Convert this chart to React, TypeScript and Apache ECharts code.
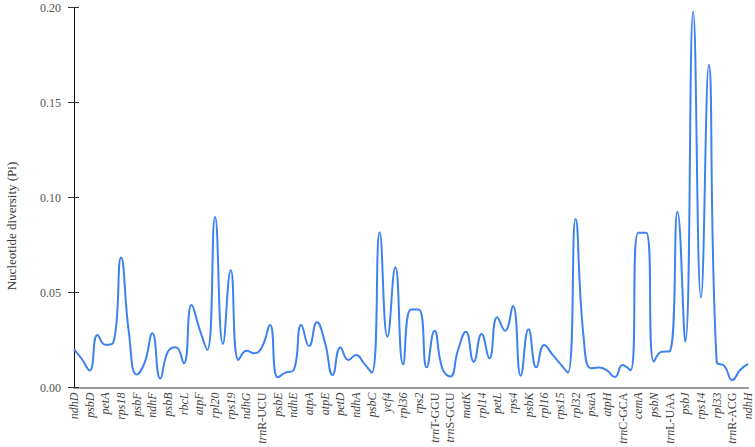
import React, { useEffect, useRef } from "react";
import * as echarts from "echarts";

// Gene names shown on the x axis (every second sampled region carries a label)
const geneLabels: string[] = [
  "ndhD", "psbD", "petA", "rps18", "psbF", "ndhF", "psbB", "rbcL", "atpF", "rpl20",
  "rps19", "ndhG", "trnR-UCU", "psbE", "ndhE", "atpA", "atpE", "petD", "ndhA", "psbC",
  "ycf4", "rpl36", "rps2", "trnT-GGU", "trnS-GCU", "matK", "rpl14", "petL", "rps4", "psbK",
  "rpl16", "rps15", "rpl32", "psaA", "atpH", "trnC-GCA", "cemA", "psbN", "trnL-UAA", "psbJ",
  "rps14", "rpl33", "trnR-ACG", "ndhH",
];

// Nucleotide diversity (Pi) per region
const piValues: number[] = [
  0.0201, 0.0150, 0.0090, 0.0276, 0.0225, 0.0235, 0.0684, 0.0290, 0.0068, 0.0130,
  0.0285, 0.0048, 0.0190, 0.0212, 0.0127, 0.0434, 0.0310, 0.0197, 0.0898, 0.0229,
  0.0617, 0.0145, 0.0194, 0.0180, 0.0215, 0.0329, 0.0054, 0.0078, 0.0090, 0.0329,
  0.0218, 0.0343, 0.0240, 0.0066, 0.0211, 0.0145, 0.0171, 0.0127, 0.0078, 0.0817,
  0.0267, 0.0633, 0.0122, 0.0410, 0.0410, 0.0106, 0.0299, 0.0100, 0.0058, 0.0197,
  0.0294, 0.0136, 0.0282, 0.0154, 0.0370, 0.0299, 0.0429, 0.0062, 0.0307, 0.0106,
  0.0224, 0.0176, 0.0127, 0.0078, 0.0887, 0.0276, 0.0101, 0.0105, 0.0090, 0.0055,
  0.0118, 0.0090, 0.0815, 0.0815, 0.0136, 0.0188, 0.0190, 0.0925, 0.0241, 0.1978,
  0.0473, 0.1697, 0.0136, 0.0113, 0.0039, 0.0092, 0.0124,
];

const yTicks: number[] = [0, 0.05, 0.1, 0.15, 0.2];

// categories: labelled regions interleaved with unlabelled ones
const categories: string[] = piValues.map((_, i) =>
  i % 2 === 0 ? geneLabels[i / 2] ?? "" : ""
);

const SERIF = "Liberation Serif";

export default function App() {
  const ref = useRef<HTMLDivElement>(null);

  useEffect(() => {
    if (!ref.current) return;
    const chart = echarts.init(ref.current, undefined, { renderer: "svg" });
    const yMin = yTicks[0];
    const yMax = yTicks[yTicks.length - 1];
    const yInt = yTicks[1] - yTicks[0];
    chart.setOption({
      animation: false,
      backgroundColor: "#ffffff",
      textStyle: { fontFamily: SERIF },
      grid: { left: 74, right: 7, top: 7.5, bottom: 59.5, containLabel: false },
      xAxis: {
        type: "category",
        data: categories,
        boundaryGap: false,
        axisLine: { show: true, lineStyle: { color: "#999999", width: 2 } },
        axisTick: { show: false },
        axisLabel: {
          interval: 0,
          rotate: 90,
          margin: 5,
          color: "#444444",
          fontFamily: SERIF,
          fontSize: 12,
          formatter: (v: string) => {
            if (!v) return "";
            if (v.startsWith("trn")) return `{i|trn}{n|${v.slice(3)}}`;
            return `{i|${v}}`;
          },
          rich: {
            i: { fontStyle: "italic", fontFamily: SERIF, fontSize: 12, color: "#444444" },
            n: { fontStyle: "normal", fontFamily: SERIF, fontSize: 12, color: "#444444" },
          },
        },
        splitLine: { show: false },
      },
      yAxis: [
        {
          type: "value",
          min: yMin,
          max: yMax,
          interval: yInt,
          axisLine: { show: true, lineStyle: { color: "#111111", width: 1 } },
          axisTick: { show: true, inside: false, length: 6, lineStyle: { color: "#333333", width: 1 } },
          axisLabel: {
            margin: 13,
            color: "#555555",
            fontFamily: SERIF,
            fontSize: 12,
            formatter: (v: number) => v.toFixed(2),
          },
          splitLine: { show: false },
        },
        {
          type: "value",
          min: yMin,
          max: yMax,
          interval: yInt,
          position: "left",
          axisLine: { show: false },
          axisTick: { show: true, inside: true, length: 5, lineStyle: { color: "#333333", width: 1 } },
          axisLabel: { show: false },
          splitLine: { show: false },
        },
      ],
      graphic: [
        {
          type: "text",
          x: 11,
          y: 226,
          rotation: Math.PI / 2,
          style: {
            text: "Nucleotide diversity (Pi)",
            fontFamily: SERIF,
            fontSize: 13,
            fill: "#333333",
            textAlign: "center",
            textVerticalAlign: "middle",
          },
        },
      ],
      series: [
        {
          type: "line",
          data: piValues,
          smooth: 0.5,
          showSymbol: false,
          symbol: "none",
          yAxisIndex: 0,
          lineStyle: { color: "#3D82F0", width: 2 },
          itemStyle: { color: "#3D82F0" },
        },
      ],
    });
    return () => chart.dispose();
  }, []);

  return (
    <div
      ref={ref}
      style={{ position: "fixed", left: 0, top: 0, width: 755, height: 447 }}
    />
  );
}
